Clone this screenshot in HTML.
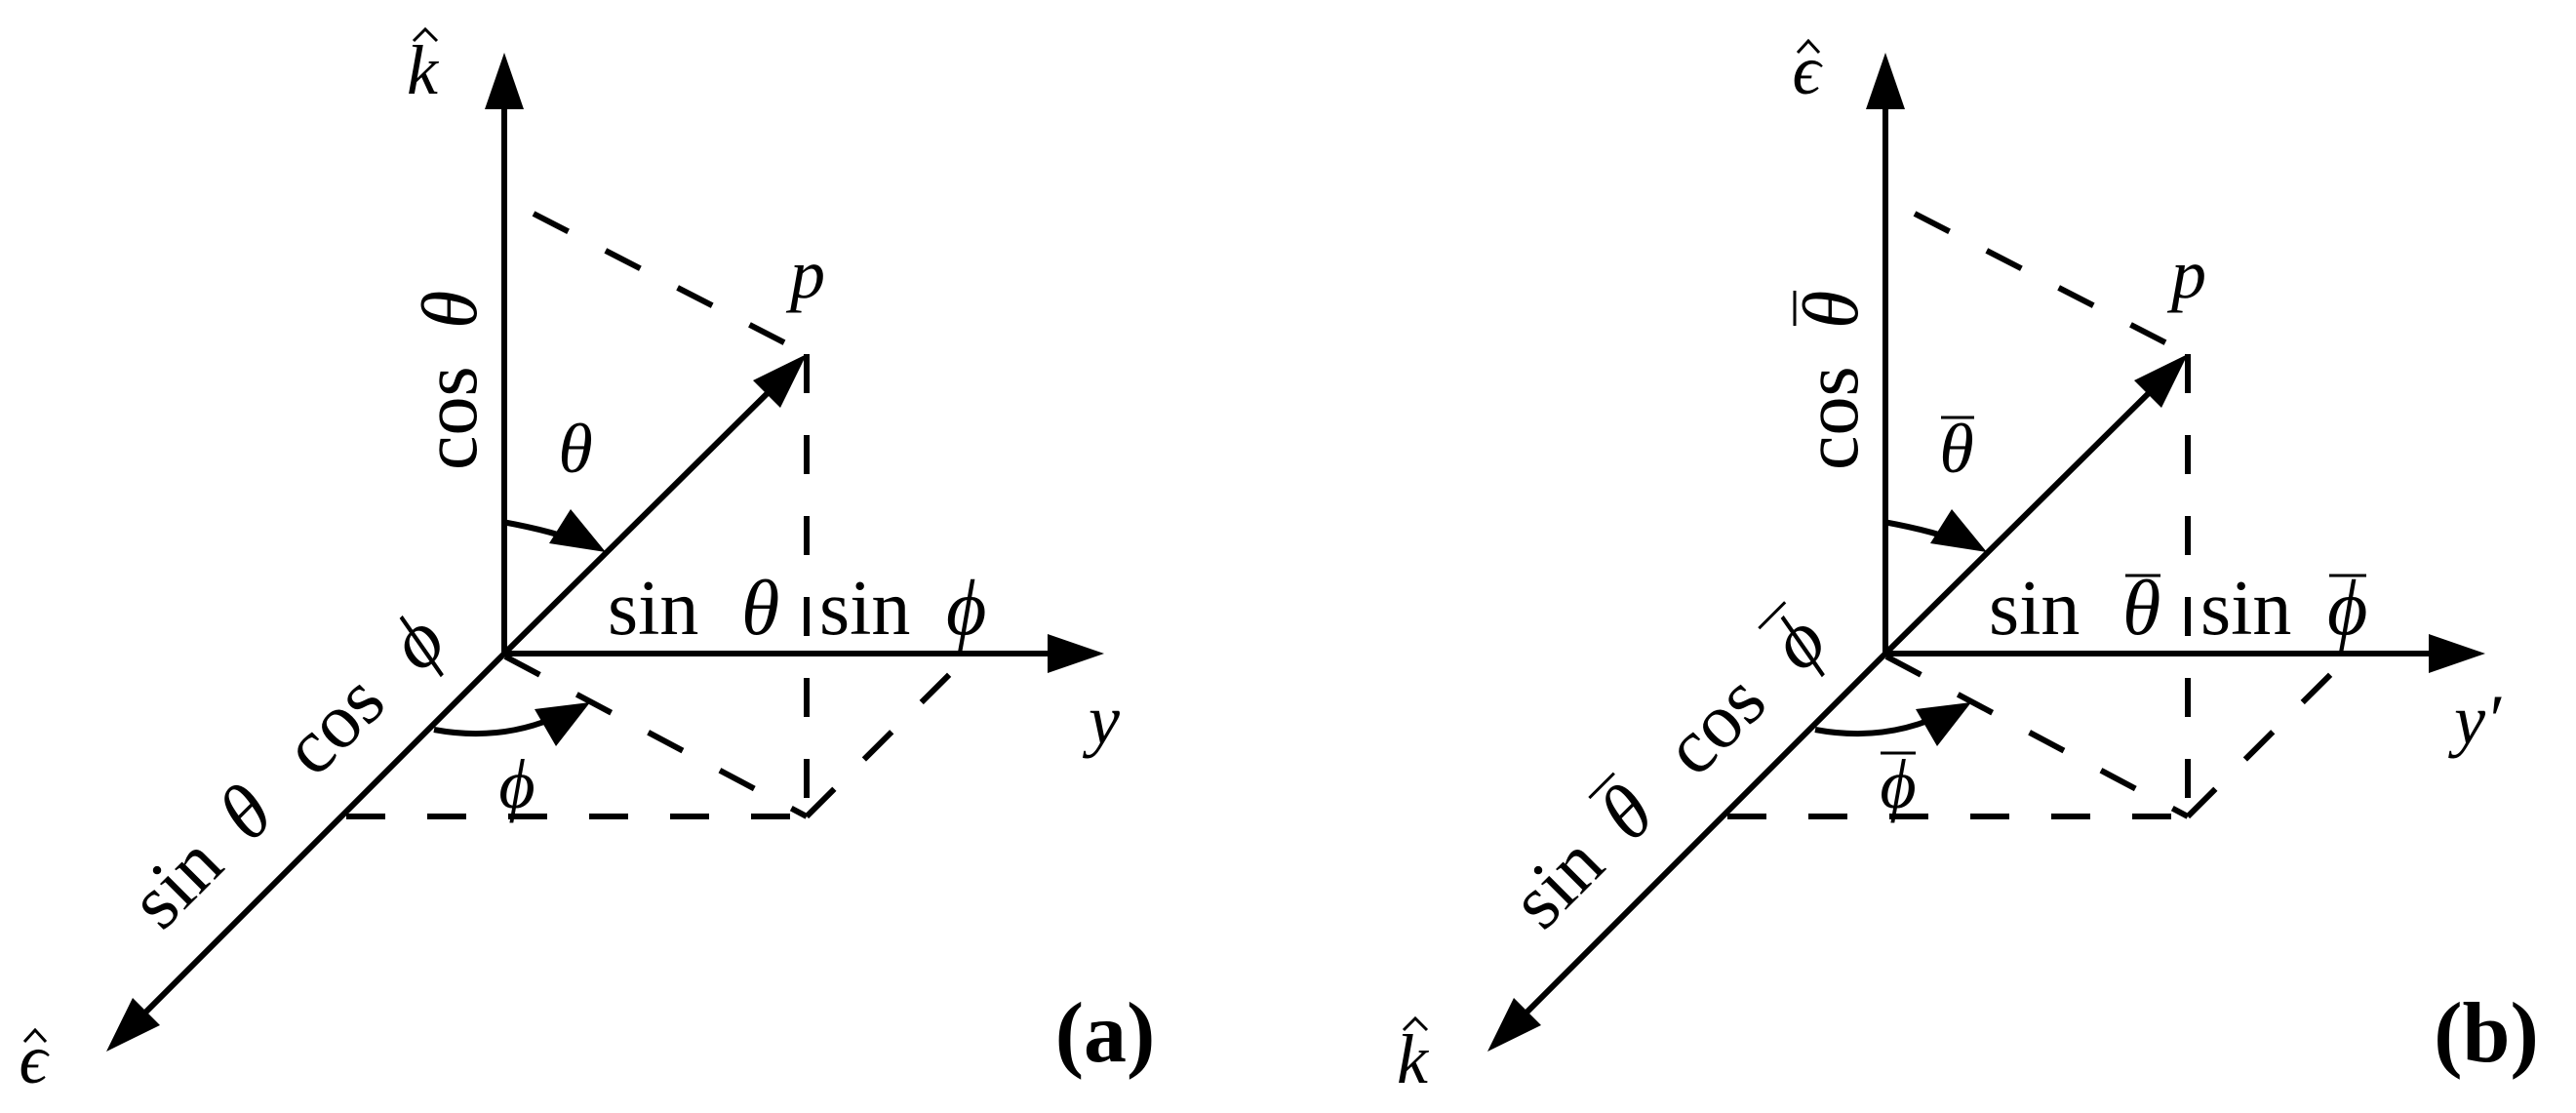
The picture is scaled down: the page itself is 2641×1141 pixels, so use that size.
<!DOCTYPE html>
<html><head><meta charset="utf-8"><style>
html,body{margin:0;padding:0;background:#fff;}
svg{display:block;}
text{font-family:"Liberation Serif","DejaVu Serif",serif;fill:#000;}
.i{font-style:italic;}
</style></head><body>
<svg width="2641" height="1141" viewBox="0 0 2641 1141" xmlns="http://www.w3.org/2000/svg">
<defs>
<g id="fig">
  <g stroke="#000" stroke-width="6" fill="none">
    <line x1="517" y1="672" x2="517" y2="100"/>
    <line x1="514" y1="670" x2="1085" y2="670"/>
    <line x1="517" y1="670" x2="140" y2="1047"/>
    <line x1="517" y1="670" x2="795" y2="395"/>
    <path d="M515,535 Q570,545 600,558"/>
    <path d="M445,748 Q520,762 585,728"/>
  </g>
  <g stroke="#000" stroke-width="6" fill="none" stroke-dasharray="40,43">
    <line x1="547" y1="219" x2="827" y2="363"/>
    <line x1="827" y1="363" x2="827" y2="840"/>
    <line x1="355" y1="837" x2="827" y2="837"/>
    <line x1="518" y1="673" x2="827" y2="837"/>
    <line x1="827" y1="837" x2="995" y2="670"/>
  </g>
  <g fill="#000">
    <polygon points="517,54 497,112 537,112"/>
    <polygon points="1132,670 1074,650 1074,690"/>
    <polygon points="109,1078 164,1051 136,1023"/>
    <polygon points="827,363 800,418 772,390"/>
    <polygon points="621,566 585,522 563,557"/>
    <polygon points="605,720 548,727 570,765"/>
  </g>
</g>
</defs>

<!-- panel a -->
<use href="#fig"/>
<text x="433" y="96" font-size="72" class="i" text-anchor="middle">k</text>
<polyline points="424,42 436,30 448,42" stroke="#000" stroke-width="3" fill="none"/>
<text x="34" y="1110" font-size="72" class="i" text-anchor="middle">ϵ</text>
<polyline points="25,1068 36,1056 47,1068" stroke="#000" stroke-width="3" fill="none"/>
<text x="828" y="305" font-size="72" class="i" text-anchor="middle">p</text>
<text x="590" y="484" font-size="72" class="i" text-anchor="middle">θ</text>
<text x="530" y="828" font-size="72" class="i" text-anchor="middle">ϕ</text>
<text x="1132" y="762" font-size="72" class="i" text-anchor="middle">y</text>
<text x="1133" y="1088" font-size="88" font-weight="bold" text-anchor="middle">(a)</text>
<g transform="translate(488,482) rotate(-90)" font-size="80">
  <text x="0" y="0">cos</text><text x="145" y="0" class="i">θ</text>
</g>
<g font-size="80">
  <text x="623" y="650">sin</text><text x="760" y="650" class="i">θ</text>
  <text x="840" y="650">sin</text><text x="970" y="650" class="i">ϕ</text>
</g>
<g transform="translate(166,956) rotate(-45)" font-size="80">
  <text x="0" y="0">sin</text><text x="128" y="0" class="i">θ</text>
  <text x="222" y="0">cos</text><text x="375" y="0" class="i">ϕ</text>
</g>

<!-- panel b -->
<use href="#fig" transform="translate(1416,0)"/>
<text x="1852" y="96" font-size="72" class="i" text-anchor="middle">ϵ</text>
<polyline points="1843,54 1854,42 1865,54" stroke="#000" stroke-width="3" fill="none"/>
<text x="1448" y="1110" font-size="72" class="i" text-anchor="middle">k</text>
<polyline points="1439,1056 1451,1044 1463,1056" stroke="#000" stroke-width="3" fill="none"/>
<text x="2244" y="305" font-size="72" class="i" text-anchor="middle">p</text>
<text x="2006" y="484" font-size="72" class="i" text-anchor="middle">θ</text>
<line x1="1990" y1="428" x2="2024" y2="428" stroke="#000" stroke-width="3"/>
<text x="1946" y="828" font-size="72" class="i" text-anchor="middle">ϕ</text>
<line x1="1928" y1="772" x2="1964" y2="772" stroke="#000" stroke-width="3"/>
<text x="2540" y="762" font-size="72" class="i" text-anchor="middle">y′</text>
<text x="2549" y="1088" font-size="88" font-weight="bold" text-anchor="middle">(b)</text>
<g transform="translate(1904,482) rotate(-90)" font-size="80">
  <text x="0" y="0">cos</text><text x="145" y="0" class="i">θ</text>
  <line x1="148" y1="-64" x2="184" y2="-64" stroke="#000" stroke-width="3"/>
</g>
<g font-size="80">
  <text x="2039" y="650">sin</text><text x="2176" y="650" class="i">θ</text>
  <line x1="2179" y1="590" x2="2215" y2="590" stroke="#000" stroke-width="3"/>
  <text x="2256" y="650">sin</text><text x="2386" y="650" class="i">ϕ</text>
  <line x1="2388" y1="590" x2="2426" y2="590" stroke="#000" stroke-width="3"/>
</g>
<g transform="translate(1582,956) rotate(-45)" font-size="80">
  <text x="0" y="0">sin</text><text x="128" y="0" class="i">θ</text>
  <line x1="131" y1="-64" x2="167" y2="-64" stroke="#000" stroke-width="3"/>
  <text x="222" y="0">cos</text><text x="375" y="0" class="i">ϕ</text>
  <line x1="377" y1="-64" x2="415" y2="-64" stroke="#000" stroke-width="3"/>
</g>
</svg>
</body></html>
